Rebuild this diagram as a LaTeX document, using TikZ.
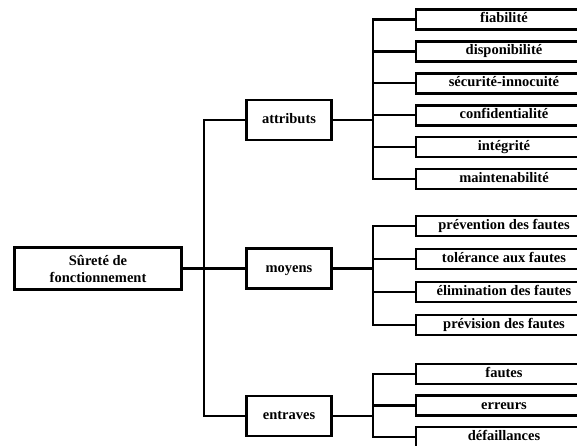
\documentclass[tikz,border=0pt]{standalone}
\usepackage{fontspec}
\setmainfont{Liberation Serif}
\usetikzlibrary{positioning}

\begin{document}
\begin{tikzpicture}[x=1pt, y=-1pt,
    box/.style={draw, line width=2.7pt, fill=white, align=center, inner sep=1pt,
                font=\fontsize{14.5}{17}\selectfont\bfseries},
    rootbox/.style={box, minimum width=167pt, minimum height=42pt},
    groupbox/.style={box, minimum width=85pt, minimum height=40pt, text height=10pt, text depth=3pt},
    leafbox/.style={box, minimum width=176pt, minimum height=20pt, text height=10pt, text depth=3pt},
    link/.style={line width=2.4pt}]
    \useasboundingbox (0,0) rectangle (577,446);
    \clip (0,0) rectangle (577,446);

    % Draw root and groups
    \node[rootbox] (surete) at (98,268.5) {Sûreté de\\fonctionnement};
    \node[groupbox] (attributs) at (289,120) {attributs};
    \node[groupbox] (moyens) at (289,268.5) {moyens};
    \node[groupbox] (entraves) at (289,416) {entraves};

    % Draw attributes
    \node[leafbox] (fiab) at (504,19.5) {fiabilité};
    \node[leafbox, below=9.2pt of fiab] (dispo) {disponibilité};
    \node[leafbox, below=9.2pt of dispo] (secu) {sécurité-innocuité};
    \node[leafbox, below=9.2pt of secu] (confid) {confidentialité};
    \node[leafbox, below=9.2pt of confid] (integ) {intégrité};
    \node[leafbox, below=9.2pt of integ] (maint) {maintenabilité};

    % Draw means
    \node[leafbox] (prev) at (504,226) {prévention des fautes};
    \node[leafbox, below=10.3pt of prev] (toler) {tolérance aux fautes};
    \node[leafbox, below=10.3pt of toler] (elim) {élimination des fautes};
    \node[leafbox, below=10.3pt of elim] (previs) {prévision des fautes};

    % Draw threats
    \node[leafbox] (fautes) at (504,374) {fautes};
    \node[leafbox, below=8.8pt of fautes] (erreurs) {erreurs};
    \node[leafbox, below=8.8pt of erreurs] (defaill) {défaillances};

    % Root to groups
    \coordinate (trunk) at (204,0);
    \draw[link] (surete.east) -- (moyens.west);
    \draw[link] (attributs.west) -- (trunk |- attributs.west) -- (trunk |- entraves.west) -- (entraves.west);

    % Groups to leaves
    \coordinate (split) at (373,0);
    \draw[link] (attributs.east) -- (split |- attributs.east);
    \draw[link] (fiab.west) -- (split |- fiab.west) -- (split |- maint.west) -- (maint.west);
    \foreach \n in {dispo,secu,confid,integ}
        \draw[link] (split |- \n.west) -- (\n.west);

    \draw[link] (moyens.east) -- (split |- moyens.east);
    \draw[link] (prev.west) -- (split |- prev.west) -- (split |- previs.west) -- (previs.west);
    \foreach \n in {toler,elim}
        \draw[link] (split |- \n.west) -- (\n.west);

    \draw[link] (entraves.east) -- (split |- entraves.east);
    \draw[link] (fautes.west) -- (split |- fautes.west) -- (split |- defaill.west) -- (defaill.west);
    \draw[link] (split |- erreurs.west) -- (erreurs.west);
\end{tikzpicture}
\end{document}
